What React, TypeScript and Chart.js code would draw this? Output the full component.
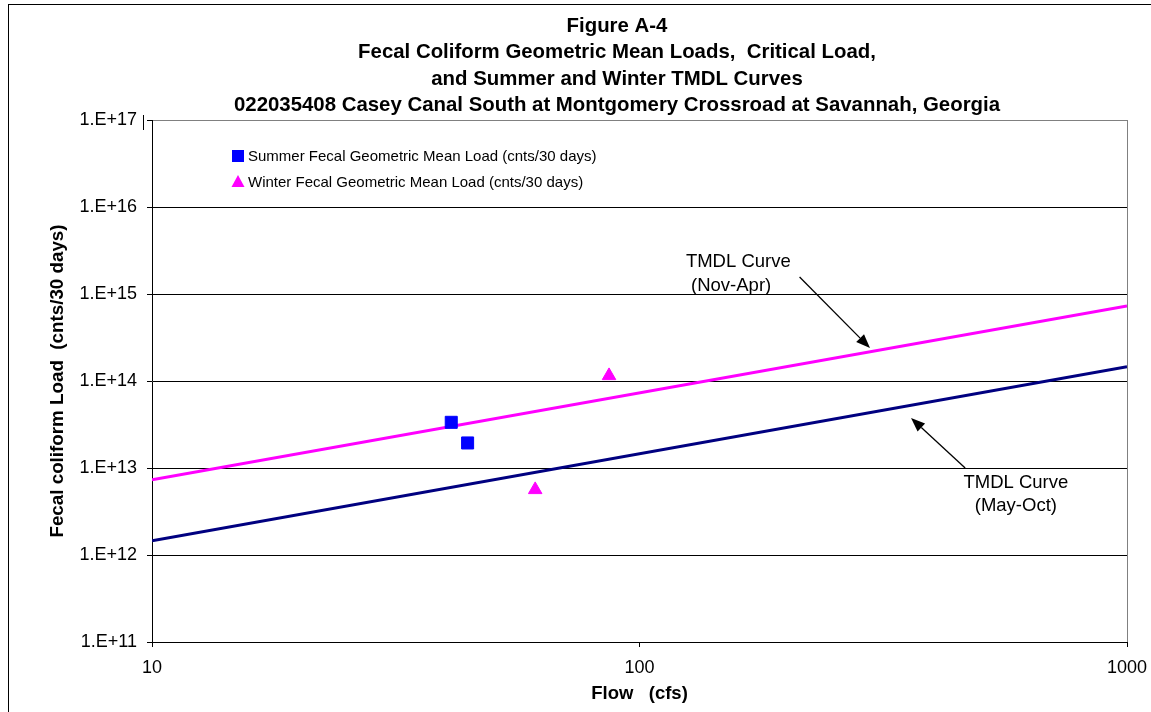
import React, { useEffect, useRef } from 'react';
import { Chart, registerables } from 'chart.js';

Chart.register(...registerables);

// ---------- data ----------
const titleLines = [
  'Figure A-4',
  'Fecal Coliform Geometric Mean Loads,  Critical Load,',
  'and Summer and Winter TMDL Curves',
  '022035408 Casey Canal South at Montgomery Crossroad at Savannah, Georgia',
];
const xTitle = 'Flow   (cfs)';
const yTitle = 'Fecal coliform Load  (cnts/30 days)';

const xTicks = [10, 100, 1000];
const yTicks = [1e11, 1e12, 1e13, 1e14, 1e15, 1e16, 1e17];

const summerLabel = 'Summer Fecal Geometric Mean Load (cnts/30 days)';
const summerFlow = [41.1, 44.4];
const summerLoad = [3.35e13, 1.94e13];

const winterLabel = 'Winter Fecal Geometric Mean Load (cnts/30 days)';
const winterFlow = [61.1, 86.6];
const winterLoad = [5.63e12, 1.15e14];

const tmdlFlow = [10, 1000];
const tmdlWinterLoad = [7.3e12, 7.3e14];
const tmdlSummerLoad = [1.46e12, 1.46e14];

const annotationTexts = [
  ['TMDL Curve', ' (Nov-Apr)'],
  ['TMDL Curve', '(May-Oct)'],
];
// anchor points in data units (flow, load)
const annotationTextAt = [
  [124.5, 2.04e15],
  [591.6, 5.89e12],
];
const annotationArrowFrom = [
  [213, 1.57e15],
  [465.6, 1.0e13],
];
const annotationArrowTo = [
  [297, 2.39e14],
  [360.6, 3.76e13],
];

// ---------- styles ----------
const FONT = "'Liberation Sans', Arial, Helvetica, sans-serif";
const BLUE = '#0000FF';
const MAGENTA = '#FF00FF';
const NAVY = '#000080';

const toPts = (xs: number[], ys: number[]) => xs.map((x, i) => ({ x, y: ys[i] }));

const decorPlugin = {
  id: 'decor',
  beforeDraw(chart: any) {
    const { ctx, width, height } = chart;
    ctx.save();
    ctx.fillStyle = '#ffffff';
    ctx.fillRect(0, 0, width, height);
    ctx.restore();
  },
  afterDraw(chart: any) {
    const { ctx, chartArea, scales } = chart;
    const xs = scales.x;
    const ys = scales.y;
    ctx.save();

    // outer frame
    ctx.strokeStyle = '#000';
    ctx.lineWidth = 1;
    ctx.strokeRect(8.5, 4.5, 1200, 800);

    // small mark left of the top of the value axis
    ctx.beginPath();
    ctx.moveTo(143.5, chartArea.top - 5);
    ctx.lineTo(143.5, chartArea.top + 10);
    ctx.stroke();

    // title
    ctx.fillStyle = '#000';
    ctx.font = `bold 20.4px ${FONT}`;
    ctx.textAlign = 'center';
    ctx.textBaseline = 'alphabetic';
    titleLines.forEach((t, i) => ctx.fillText(t, 617, 32 + i * 26.33));

    // legend
    ctx.font = `15px ${FONT}`;
    ctx.textAlign = 'left';
    ctx.textBaseline = 'middle';
    const legendItems = chart.data.datasets.filter((d: any) => d.label);
    legendItems.forEach((d: any, i: number) => {
      const cx = chartArea.left + 86;
      const cy = chartArea.top + 36 + i * 26;
      ctx.fillStyle = d.backgroundColor;
      ctx.beginPath();
      if (d.pointStyle === 'rect') {
        ctx.rect(cx - 6, cy - 6, 12, 12);
      } else {
        ctx.moveTo(cx, cy - 7);
        ctx.lineTo(cx + 6.5, cy + 5);
        ctx.lineTo(cx - 6.5, cy + 5);
        ctx.closePath();
      }
      ctx.fill();
      ctx.fillStyle = '#000';
      ctx.fillText(d.label, cx + 10, cy + 1);
    });

    // annotations
    ctx.font = `18.5px ${FONT}`;
    ctx.textBaseline = 'alphabetic';
    annotationTexts.forEach((lines, i) => {
      const tx = xs.getPixelForValue(annotationTextAt[i][0]);
      const ty = ys.getPixelForValue(annotationTextAt[i][1]);
      ctx.textAlign = i === 0 ? 'left' : 'center';
      ctx.fillStyle = '#000';
      lines.forEach((l, j) => ctx.fillText(l, tx, ty + j * 23.5));

      const x0 = xs.getPixelForValue(annotationArrowFrom[i][0]);
      const y0 = ys.getPixelForValue(annotationArrowFrom[i][1]);
      const x1 = xs.getPixelForValue(annotationArrowTo[i][0]);
      const y1 = ys.getPixelForValue(annotationArrowTo[i][1]);
      const ang = Math.atan2(y1 - y0, x1 - x0);
      const len = 14;
      const hw = 5.5;
      const bx = x1 - Math.cos(ang) * len;
      const by = y1 - Math.sin(ang) * len;
      ctx.strokeStyle = '#000';
      ctx.lineWidth = 1.3;
      ctx.beginPath();
      ctx.moveTo(x0, y0);
      ctx.lineTo(bx, by);
      ctx.stroke();
      ctx.beginPath();
      ctx.moveTo(x1, y1);
      ctx.lineTo(bx + Math.sin(ang) * hw, by - Math.cos(ang) * hw);
      ctx.lineTo(bx - Math.sin(ang) * hw, by + Math.cos(ang) * hw);
      ctx.closePath();
      ctx.fillStyle = '#000';
      ctx.fill();
    });

    ctx.restore();
  },
};

export default function App() {
  const ref = useRef<HTMLCanvasElement | null>(null);

  useEffect(() => {
    if (!ref.current) return;
    const chart = new Chart(ref.current, {
      type: 'scatter',
      data: {
        datasets: [
          {
            label: summerLabel,
            data: toPts(summerFlow, summerLoad),
            pointStyle: 'rect',
            pointRadius: 8.5,
            backgroundColor: BLUE,
            borderColor: BLUE,
            borderWidth: 1,
            showLine: false,
          },
          {
            label: winterLabel,
            data: toPts(winterFlow, winterLoad),
            pointStyle: 'triangle',
            pointRadius: 7.8,
            backgroundColor: MAGENTA,
            borderColor: MAGENTA,
            borderWidth: 1,
            showLine: false,
          },
          {
            label: '',
            data: toPts(tmdlFlow, tmdlWinterLoad),
            showLine: true,
            borderColor: MAGENTA,
            borderWidth: 3,
            pointRadius: 0,
            backgroundColor: MAGENTA,
          },
          {
            label: '',
            data: toPts(tmdlFlow, tmdlSummerLoad),
            showLine: true,
            borderColor: NAVY,
            borderWidth: 3,
            pointRadius: 0,
            backgroundColor: NAVY,
          },
        ],
      },
      options: {
        animation: false,
        responsive: false,
        devicePixelRatio: 1,
        events: [],
        layout: { padding: { top: 120, right: 24, left: 0, bottom: 0 } },
        plugins: {
          legend: { display: false },
          tooltip: { enabled: false },
          title: { display: false },
        },
        scales: {
          x: {
            type: 'logarithmic',
            position: 'bottom',
            min: 10,
            max: 1000,
            afterBuildTicks: (s: any) => {
              s.ticks = xTicks.map((v) => ({ value: v }));
            },
            afterFit: (s: any) => {
              s.height = 70;
              s.paddingLeft = 0;
              s.paddingRight = 0;
            },
            ticks: {
              autoSkip: false,
              maxRotation: 0,
              padding: 10,
              color: '#000',
              font: { family: FONT, size: 18 },
              callback: (v: any) => String(v),
            },
            grid: {
              drawOnChartArea: true,
              color: (c: any) => (c.tick && c.tick.value === 1000 ? '#808080' : 'rgba(0,0,0,0)'),
              tickColor: '#000',
              tickLength: 5,
              lineWidth: 1,
            },
            border: { display: true, color: '#000', width: 1 },
            title: {
              display: true,
              text: xTitle,
              color: '#000',
              font: { family: FONT, size: 18.5, weight: 'bold', lineHeight: 1.2 },
              padding: { top: 0, bottom: 7 },
            },
          },
          y: {
            type: 'logarithmic',
            position: 'left',
            min: 1e11,
            max: 1e17,
            afterBuildTicks: (s: any) => {
              s.ticks = yTicks.map((v) => ({ value: v }));
            },
            afterFit: (s: any) => {
              s.width = 152;
              s.paddingTop = 0;
              s.paddingBottom = 0;
            },
            ticks: {
              autoSkip: false,
              padding: 10,
              color: '#000',
              font: { family: FONT, size: 18 },
              callback: (v: any) => '1.E+' + Math.round(Math.log10(Number(v))),
            },
            grid: {
              color: (c: any) => (c.tick && c.tick.value === 1e17 ? '#808080' : '#000'),
              tickColor: '#000',
              tickLength: 5,
              lineWidth: 1,
            },
            border: { display: true, color: '#000', width: 1 },
            title: {
              display: true,
              text: yTitle,
              color: '#000',
              font: { family: FONT, size: 18.8, weight: 'bold', lineHeight: 1.2 },
              padding: { top: 47, bottom: 0 },
            },
          },
        },
      },
      plugins: [decorPlugin],
    } as any);
    return () => chart.destroy();
  }, []);

  return (
    <div style={{ position: 'absolute', left: 0, top: 0, width: 1151, height: 712, background: '#fff' }}>
      <canvas ref={ref} width={1151} height={712} style={{ display: 'block', width: 1151, height: 712 }} />
    </div>
  );
}
